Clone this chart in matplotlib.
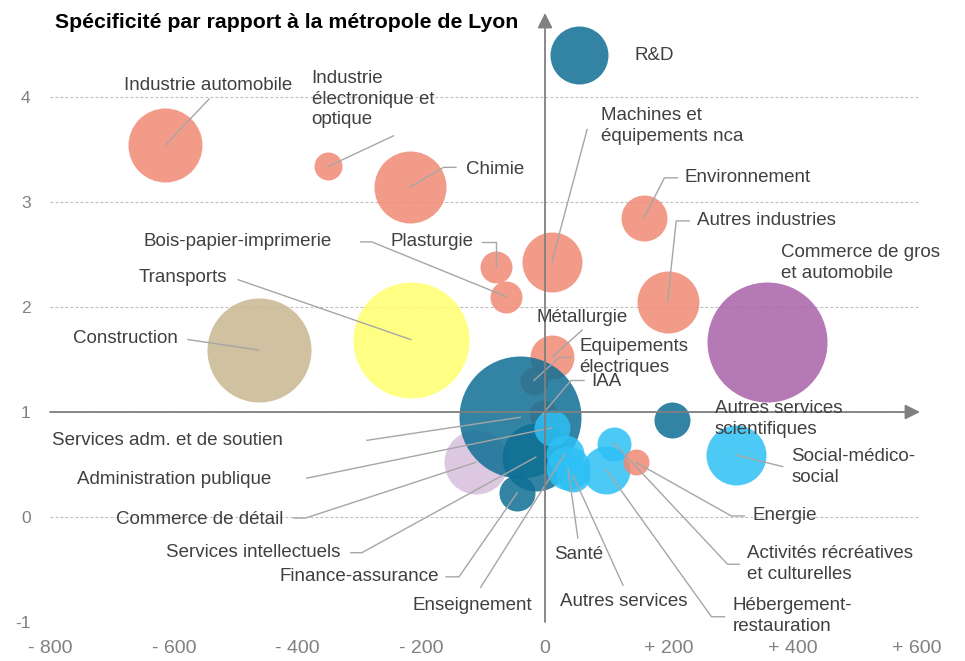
import matplotlib
matplotlib.use("Agg")
import matplotlib.pyplot as plt

plt.rcParams["font.family"] = ["Liberation Sans", "DejaVu Sans"]

# ---------------------------------------------------------------- data
# secteur, écart (x), indice de spécificité (y), taille relative (aire), groupe
secteurs = ["Industrie automobile", "Industrie électronique et optique", "Chimie",
            "Machines et équipements nca", "Environnement", "Autres industries",
            "Plasturgie", "Bois-papier-imprimerie", "Métallurgie",
            "Equipements électriques", "IAA", "Construction", "Transports",
            "Commerce de gros et automobile", "Commerce de détail", "R&D",
            "Services adm. et de soutien", "Services intellectuels",
            "Finance-assurance", "Autres services scientifiques",
            "Administration publique", "Enseignement", "Santé", "Autres services",
            "Hébergement-restauration", "Activités récréatives et culturelles",
            "Social-médico-social", "Energie"]
ecart = [-614, -350, -219, 11, 160, 198, -79, -63, 11, -18, -4, -463, -217,
         358, -112, 55, -40, -15, -45, 206, 11, 32, 37, 45, 99, 112, 309, 147]
specificite = [3.54, 3.34, 3.14, 2.43, 2.85, 2.05, 2.38, 2.10, 1.52, 1.30, 0.98,
               1.59, 1.69, 1.67, 0.52, 4.40, 0.95, 0.57, 0.23, 0.92, 0.85, 0.60,
               0.47, 0.40, 0.45, 0.70, 0.59, 0.52]
taille = [1369, 196, 1296, 900, 529, 961, 256, 256, 484, 196, 196, 2704, 3364,
          3600, 1024, 841, 3721, 1156, 324, 324, 324, 361, 484, 289, 576, 289,
          900, 169]
groupe = ["ind"] * 11 + ["constr", "transp", "gros", "detail"] + ["serv_ent"] * 5 \
         + ["serv_pers"] * 7 + ["ind"]

xticks = [-800, -600, -400, -200, 0, 200, 400, 600]
xtick_labels = ["- 800", "- 600", "- 400", "- 200", "0", "+ 200", "+ 400", "+ 600"]
yticks = [-1, 0, 1, 2, 3, 4]
ytick_labels = ["-1", "0", "1", "2", "3", "4"]

COULEURS = {"ind": "#f08a75", "constr": "#c8b68f", "transp": "#ffff6e",
            "gros": "#a862a9", "detail": "#d6c0dc", "serv_ent": "#0f6f94",
            "serv_pers": "#2ec0f5"}

# label layout: secteur -> (texte, x, y, ha, début du trait, coude)
LABELS = {
    "R&D": ("R&D", 144, 4.40, "left", None, None),
    "Industrie automobile": ("Industrie automobile", -544, 4.11, "center", (-543, 3.98), None),
    "Industrie électronique et optique": ("Industrie\nélectronique et\noptique", -377, 3.98, "left", (-245, 3.63), None),
    "Chimie": ("Chimie", -128, 3.31, "left", (-144, 3.33), (-164, 3.33)),
    "Machines et équipements nca": ("Machines et\néquipements nca", 91, 3.72, "left", (68, 3.69), None),
    "Environnement": ("Environnement", 225, 3.23, "left", (214, 3.23), (193, 3.23)),
    "Autres industries": ("Autres industries", 245, 2.82, "left", (233, 2.82), (212, 2.82)),
    "Commerce de gros et automobile": ("Commerce de gros\net automobile", 382, 2.42, "left", None, None),
    "Bois-papier-imprimerie": ("Bois-papier-imprimerie", -496, 2.62, "center", (-298, 2.62), (-280, 2.62)),
    "Plasturgie": ("Plasturgie", -249, 2.62, "left", (-102, 2.62), (-79, 2.62)),
    "Transports": ("Transports", -657, 2.28, "left", (-496, 2.26), None),
    "Construction": ("Construction", -763, 1.70, "left", (-577, 1.69), None),
    "Métallurgie": ("Métallurgie", 60, 1.90, "center", (60, 1.78), None),
    "Equipements électriques": ("Equipements\nélectriques", 55, 1.52, "left", (42, 1.52), (23, 1.52)),
    "IAA": ("IAA", 74, 1.29, "left", (63, 1.30), (42, 1.30)),
    "Autres services scientifiques": ("Autres services\nscientifiques", 274, 0.93, "left", None, None),
    "Social-médico-social": ("Social-médico-\nsocial", 398, 0.48, "left", (384, 0.48), None),
    "Services adm. et de soutien": ("Services adm. et de soutien", -424, 0.73, "right", (-288, 0.73), None),
    "Administration publique": ("Administration publique", -442, 0.36, "right", (-385, 0.37), None),
    "Commerce de détail": ("Commerce de détail", -423, -0.02, "right", (-406, -0.01), (-387, -0.01)),
    "Services intellectuels": ("Services intellectuels", -330, -0.34, "right", (-314, -0.34), (-296, -0.34)),
    "Finance-assurance": ("Finance-assurance", -172, -0.57, "right", (-160, -0.57), (-139, -0.57)),
    "Enseignement": ("Enseignement", -118, -0.84, "center", (-104, -0.67), None),
    "Santé": ("Santé", 55, -0.36, "center", (53, -0.20), None),
    "Autres services": ("Autres services", 128, -0.80, "center", (126, -0.65), None),
    "Hébergement-restauration": ("Hébergement-\nrestauration", 303, -0.94, "left", (290, -0.95), (269, -0.95)),
    "Activités récréatives et culturelles": ("Activités récréatives\net culturelles", 327, -0.45, "left", (314, -0.45), (295, -0.45)),
    "Energie": ("Energie", 335, 0.01, "left", (322, 0.01), (301, 0.01)),
}

TXT = "#404040"
TRAIT = "#a6a6a6"
AXE = "#808080"

fig = plt.figure(figsize=(9.65, 6.61), dpi=100)
ax = fig.add_axes([50 / 965, 39 / 661, 870 / 965, 609 / 661])
ax.set_xlim(-800, 606)
ax.set_ylim(-1, 4.8)
for s in ax.spines.values():
    s.set_visible(False)

# grid
for y in yticks:
    ax.plot([-800, 606], [y, y], color="#bdbdbd", lw=0.8, ls=(0, (2.5, 2)), zorder=0)

# bubbles (surface ~ taille, dpi=100 -> 1 px = 0.72 pt)
k = (2 * 0.72) ** 2
for i in range(len(secteurs)):
    ax.scatter(ecart[i], specificite[i], s=taille[i] * k, color=COULEURS[groupe[i]],
               alpha=0.85, linewidths=0, zorder=2)

# axes with arrows
ax.annotate("", xy=(606, 1), xytext=(-800, 1),
            arrowprops=dict(arrowstyle="-|>,head_length=0.9,head_width=0.45",
                            color=AXE, lw=1.3, shrinkA=0, shrinkB=0), zorder=4)
ax.annotate("", xy=(0, 4.8), xytext=(0, -1),
            arrowprops=dict(arrowstyle="-|>,head_length=0.9,head_width=0.45",
                            color=AXE, lw=1.3, shrinkA=0, shrinkB=0), zorder=4)

# labels + leader lines
for i, sect in enumerate(secteurs):
    texte, tx, ty, ha, debut, coude = LABELS[sect]
    ax.text(tx, ty, texte, ha=ha, va="center", fontsize=13.5, color=TXT,
            linespacing=1.3, zorder=5)
    if debut is not None:
        pts = [debut] + ([coude] if coude else []) + [(ecart[i], specificite[i])]
        ax.plot([p[0] for p in pts], [p[1] for p in pts], color=TRAIT, lw=1.0, zorder=3)

ax.set_xticks(xticks)
ax.set_xticklabels(xtick_labels)
ax.set_yticks(yticks)
ax.set_yticklabels(ytick_labels)
ax.tick_params(axis="x", length=0, pad=13, labelsize=14, labelcolor=AXE)
ax.tick_params(axis="y", length=0, pad=14, labelsize=12.5, labelcolor=AXE)

fig.text(55 / 965, 1 - 22 / 661, "Spécificité par rapport à la métropole de Lyon",
         fontsize=15.3, fontweight="bold", color="black", va="center", ha="left")

fig.savefig("out.png", dpi=100)
